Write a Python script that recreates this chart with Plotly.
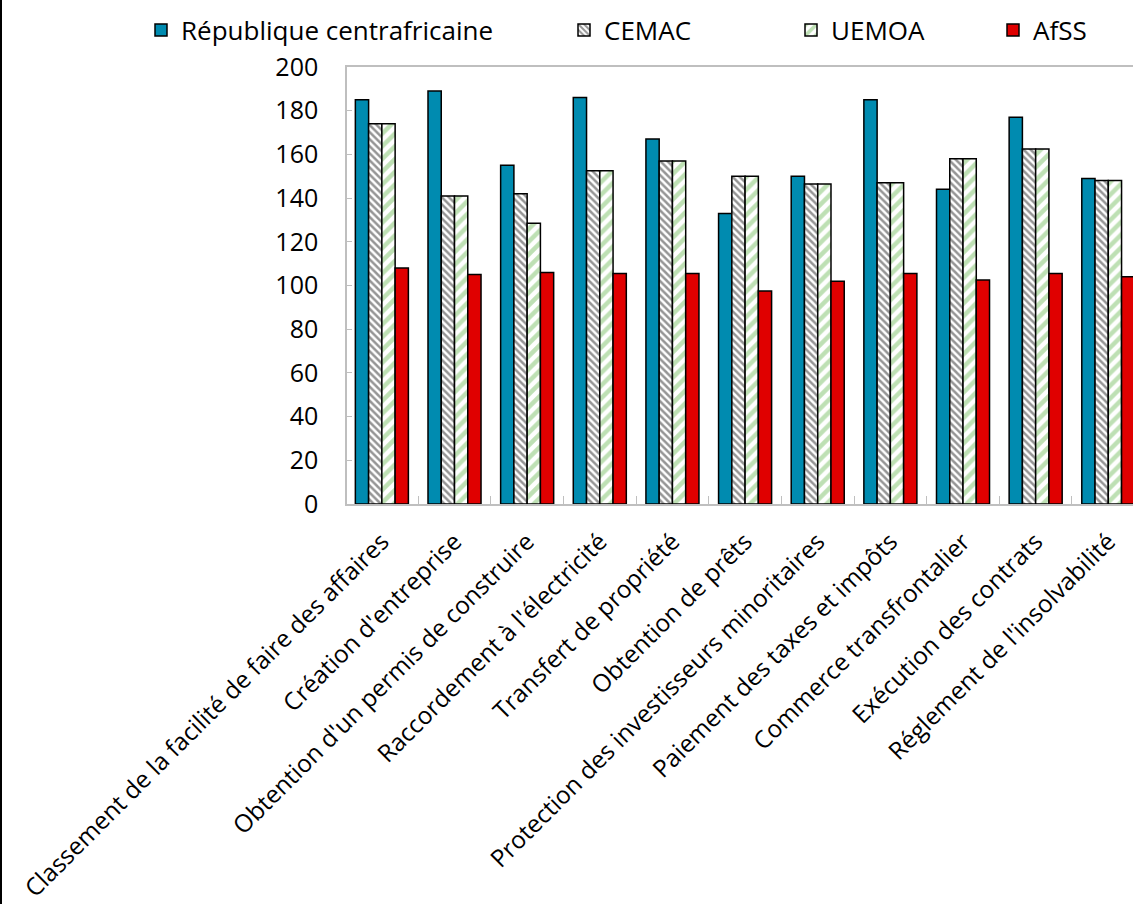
import plotly.graph_objects as go

categories = [
    "Classement de la facilité de faire des affaires",
    "Création d'entreprise",
    "Obtention d'un permis de construire",
    "Raccordement à l'électricité",
    "Transfert de propriété",
    "Obtention de prêts",
    "Protection des investisseurs minoritaires",
    "Paiement des taxes et impôts",
    "Commerce transfrontalier",
    "Exécution des contrats",
    "Réglement de l'insolvabilité",
]
rca = [185, 189, 155, 186, 167, 133, 150, 185, 144, 177, 149]
cemac = [174, 141, 142, 152.5, 157, 150, 146.5, 147, 158, 162.5, 148]
uemoa = [174, 141, 128.5, 152.5, 157, 150, 146.5, 147, 158, 162.5, 148]
afss = [108, 105, 106, 105.5, 105.5, 97.5, 102, 105.5, 102.5, 105.5, 104]
series_names = ["République centrafricaine", "CEMAC", "UEMOA", "AfSS"]
y_ticks = [0, 20, 40, 60, 80, 100, 120, 140, 160, 180, 200]

FONT = "Open Sans"
FS = 25
FSX = 24.3
FSL = 26
W, H = 1133, 904
ML, MT, MB, MR = 347, 67, 400, 0
PW = W - ML - MR
PH = H - MT - MB

fig = go.Figure()
fig.add_trace(go.Bar(name=series_names[0], x=categories, y=rca, showlegend=True,
                     marker=dict(color="#008BB0", line=dict(color="black", width=1.5)),
                     legend="legend"))
fig.add_trace(go.Bar(name=series_names[1], x=categories, y=cemac, showlegend=True,
                     marker=dict(color="white", line=dict(color="black", width=1.5),
                                 pattern=dict(shape="\\", fgcolor="#2B2B2B", bgcolor="white",
                                              size=5, solidity=0.5)),
                     legend="legend2"))
fig.add_trace(go.Bar(name=series_names[2], x=categories, y=uemoa, showlegend=True,
                     marker=dict(color="white", line=dict(color="black", width=1.5),
                                 pattern=dict(shape="/", fgcolor="#7DC16A", bgcolor="white",
                                              size=9, solidity=0.5)),
                     legend="legend3"))
fig.add_trace(go.Bar(name=series_names[3], x=categories, y=afss, showlegend=True,
                     marker=dict(color="#E00000", line=dict(color="black", width=1.5)),
                     legend="legend4"))

def px2paper(px):
    return (px - ML) / PW

leg_common = dict(orientation="h", yanchor="middle", y=1 + (67 - 30) / PH,
                  xanchor="left", font=dict(family=FONT, size=FSL, color="black"),
                  bgcolor="rgba(0,0,0,0)", itemwidth=30, tracegroupgap=0)

fig.update_layout(
    width=W, height=H,
    margin=dict(l=ML, r=MR, t=MT, b=MB, autoexpand=False),
    paper_bgcolor="white", plot_bgcolor="white",
    showlegend=True,
    barmode="group", bargap=0.27, bargroupgap=0,
    font=dict(family=FONT, size=FS, color="black"),
    legend=dict(**leg_common, x=px2paper(141)),
    legend2=dict(**leg_common, x=px2paper(564)),
    legend3=dict(**leg_common, x=px2paper(791)),
    legend4=dict(**leg_common, x=px2paper(993)),
    xaxis=dict(
        range=[-0.48, 10.34], showline=True, linecolor="#BFBFBF", linewidth=1.5,
        mirror=True, ticks="inside", tickson="boundaries", ticklen=8,
        tickcolor="#BFBFBF", tickangle=-45, ticklabelstandoff=12, automargin=False,
        tickfont=dict(family=FONT, size=FSX, color="black"), showgrid=False,
    ),
    yaxis=dict(
        range=[0, 200], tickvals=y_ticks, showline=True, linecolor="#BFBFBF",
        linewidth=1.5, ticks="inside", ticklen=5, tickcolor="#BFBFBF", automargin=False,
        showgrid=False, zeroline=False, ticklabelstandoff=22,
        tickfont=dict(family=FONT, size=FS, color="black"),
    ),
    shapes=[dict(type="line", xref="paper", yref="paper",
                 x0=px2paper(1), x1=px2paper(1), y0=-MB / PH, y1=1 + MT / PH,
                 line=dict(color="black", width=2), layer="above")],
)

fig.write_html("out.html", config={"displayModeBar": False},
               post_script="document.body.style.margin='0';document.body.style.overflow='hidden';")
